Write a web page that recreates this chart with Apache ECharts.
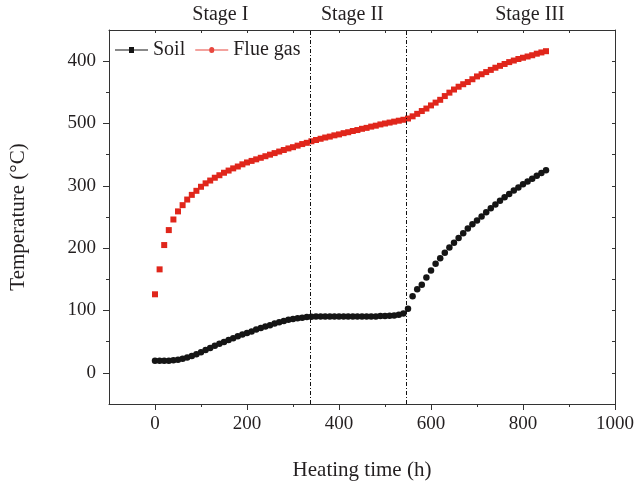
<!DOCTYPE html>
<html>
<head>
<meta charset="utf-8">
<script src="https://cdn.jsdelivr.net/npm/echarts@6/dist/echarts.min.js"></script>
<style>
html,body{margin:0;padding:0;background:#fff;}
#chart{width:639px;height:487px;}
</style>
</head>
<body>
<div id="chart"></div>
<script>
// ---- data ----
const times = [0,10,20,30,40,50,60,70,80,90,100,110,120,130,140,150,160,170,180,190,200,210,220,230,240,250,260,270,280,290,300,310,320,330,340,350,360,370,380,390,400,410,420,430,440,450,460,470,480,490,500,510,520,530,540,550,560,570,580,590,600,610,620,630,640,650,660,670,680,690,700,710,720,730,740,750,760,770,780,790,800,810,820,830,840,850];
const soil = [19.5,19.5,19.5,19.5,20,21,22.5,24.5,27,30,33,36.5,40,43.5,46.5,49.5,52.5,55.5,58.5,61.5,64,66.5,69.5,72,74.5,76.5,79,81,83,85,86.5,87.5,88.5,89.5,90,90.5,90.5,90.5,90.5,90.5,90.5,90.5,90.5,90.5,90.5,90.5,90.5,90.5,90.5,91,91,91.5,92,93,95,103,123,134,141.5,153,164,175,184,192.5,201,208.5,216.5,224,231.5,238.5,244.5,251,257.5,264,270,276,281.5,287,292.5,297.5,302.5,307,311.5,316,320.5,325];
const flueGas = [126,166,205,229,246,259,269,278,285.5,292,298.5,304,308.5,313,317,321,324.5,328,331,334.5,337.5,340,342.5,345,347.5,350,352.5,355,357.5,360,362,364.5,367,369,371.5,373.5,375.5,377.5,379,381,382.5,384.5,386,388,389.5,391.5,393,395,396.5,398.5,400,401.5,403,404.5,406,408,411.5,415.5,420,424,429,433.5,438,444,449.5,454.5,459,463,466.5,471,475.5,479,482.5,486,489.5,492.5,495.5,498.5,501,503.5,505.5,507.5,509.5,512,514,516];
const seriesNames = ['Soil', 'Flue gas'];
const stageBounds = [338, 547];
const stageNames = ['Stage I', 'Stage II', 'Stage III'];
const stageLabelX = [142, 429, 815];
const xTickLabels = [0, 200, 400, 600, 800, 1000];
const xMinorTicks = [100, 300, 500, 700, 900];
const xTopTicks = [0, 100, 200, 300, 400, 500, 600, 700, 800, 900];
const yTickValues = [0, 100, 200, 300, 400, 500];
const yTickLabels = ['0', '100', '200', '300', '500', '400'];
const yMinorTicks = [50, 150, 250, 350, 450];
const yRightTicks = [0, 50, 100, 150, 200, 250, 300, 350, 400, 450, 500];

// ---- chart ----
const FONT = '"Liberation Serif", "DejaVu Serif", serif';
const TXT = '#231f20';
const RED = '#e0261b';
const BLK = '#151515';
const AX = '#333';
const chart = echarts.init(document.getElementById('chart'), null, {renderer: 'canvas'});

const pair = (xs, ys) => xs.map((x, i) => [x, ys[i]]);

const soilIcon = 'path://M0,2.5H14V0H19V2.5H33V3.5H19V6H14V3.5H0Z';
const gasIcon = 'path://M0,2.5H14A2.5,2.5 0 0 1 19,2.5H33V3.5H19A2.5,2.5 0 0 1 14,3.5H0Z';

const option = {
  animation: false,
  backgroundColor: '#fff',
  grid: {left: 107, right: 24, top: 30, bottom: 83, containLabel: false},
  legend: {
    left: 110, top: 35,
    itemWidth: 33, itemHeight: 6, itemGap: 10,
    textStyle: {fontFamily: FONT, fontSize: 20, color: TXT},
    data: [
      {name: seriesNames[0], icon: soilIcon},
      {name: seriesNames[1], icon: gasIcon, itemStyle: {color: '#e8473e'}}
    ]
  },
  xAxis: [
    {
      type: 'value', min: -100, max: 1000, position: 'bottom',
      name: 'Heating time (h)', nameLocation: 'middle', nameGap: 56,
      nameTextStyle: {fontFamily: FONT, fontSize: 21, color: TXT},
      axisLine: {show: true, onZero: false, lineStyle: {color: AX, width: 1}},
      axisTick: {show: true, inside: false, length: 6, customValues: xTickLabels, lineStyle: {color: AX}},
      axisLabel: {customValues: xTickLabels, fontFamily: FONT, fontSize: 19, color: TXT, margin: 11, formatter: v => String(v)},
      splitLine: {show: false}
    },
    {
      type: 'value', min: -100, max: 1000, position: 'bottom',
      axisLine: {show: false, onZero: false},
      axisTick: {show: true, inside: false, length: 3, customValues: xMinorTicks, lineStyle: {color: AX}},
      axisLabel: {show: false},
      splitLine: {show: false}
    },
    {
      type: 'value', min: -100, max: 1000, position: 'top',
      axisLine: {show: true, onZero: false, lineStyle: {color: AX, width: 1}},
      axisTick: {show: true, inside: true, length: 3, customValues: xTopTicks, lineStyle: {color: AX}},
      axisLabel: {show: false},
      splitLine: {show: false}
    }
  ],
  yAxis: [
    {
      type: 'value', min: -50, max: 550, position: 'left',
      name: 'Temperature (°C)', nameLocation: 'middle', nameGap: 80, nameRotate: 90,
      nameTextStyle: {fontFamily: FONT, fontSize: 21, color: TXT},
      axisLine: {show: true, onZero: false, lineStyle: {color: AX, width: 1}},
      axisTick: {show: true, inside: false, length: 6, customValues: yTickValues, lineStyle: {color: AX}},
      axisLabel: {
        customValues: yTickValues, fontFamily: FONT, fontSize: 19, color: TXT, margin: 13,
        formatter: v => { const i = yTickValues.indexOf(v); return i >= 0 ? yTickLabels[i] : ''; }
      },
      splitLine: {show: false}
    },
    {
      type: 'value', min: -50, max: 550, position: 'left',
      axisLine: {show: false, onZero: false},
      axisTick: {show: true, inside: false, length: 3, customValues: yMinorTicks, lineStyle: {color: AX}},
      axisLabel: {show: false},
      splitLine: {show: false}
    },
    {
      type: 'value', min: -50, max: 550, position: 'right',
      axisLine: {show: true, onZero: false, lineStyle: {color: AX, width: 1}},
      axisTick: {show: true, inside: true, length: 3, customValues: yRightTicks, lineStyle: {color: AX}},
      axisLabel: {show: false},
      splitLine: {show: false}
    }
  ],
  series: [
    {
      name: seriesNames[0], type: 'scatter', xAxisIndex: 0, yAxisIndex: 0,
      symbol: 'circle', symbolSize: 6.5,
      itemStyle: {color: BLK, opacity: 1},
      data: pair(times, soil),
      z: 3,
      markLine: {
        silent: true, symbol: 'none',
        label: {show: false},
        lineStyle: {color: '#111', width: 1, type: [4, 2, 1, 2]},
        data: stageBounds.map(v => ({xAxis: v}))
      }
    },
    {
      name: seriesNames[1], type: 'scatter', xAxisIndex: 0, yAxisIndex: 0,
      symbol: 'rect', symbolSize: 6,
      itemStyle: {color: RED, opacity: 1},
      data: pair(times, flueGas),
      z: 2
    }
  ]
};
chart.setOption(option);

// stage labels above the plot, positioned through the x scale
const graphics = stageNames.map((t, i) => {
  const px = chart.convertToPixel({xAxisIndex: 0}, stageLabelX[i]);
  return {
    type: 'text', x: px, y: 15,
    style: {text: t, fontFamily: FONT, fontSize: 20, fill: TXT, textAlign: 'center', textVerticalAlign: 'middle'}
  };
});
chart.setOption({graphic: graphics});
</script>
</body>
</html>
